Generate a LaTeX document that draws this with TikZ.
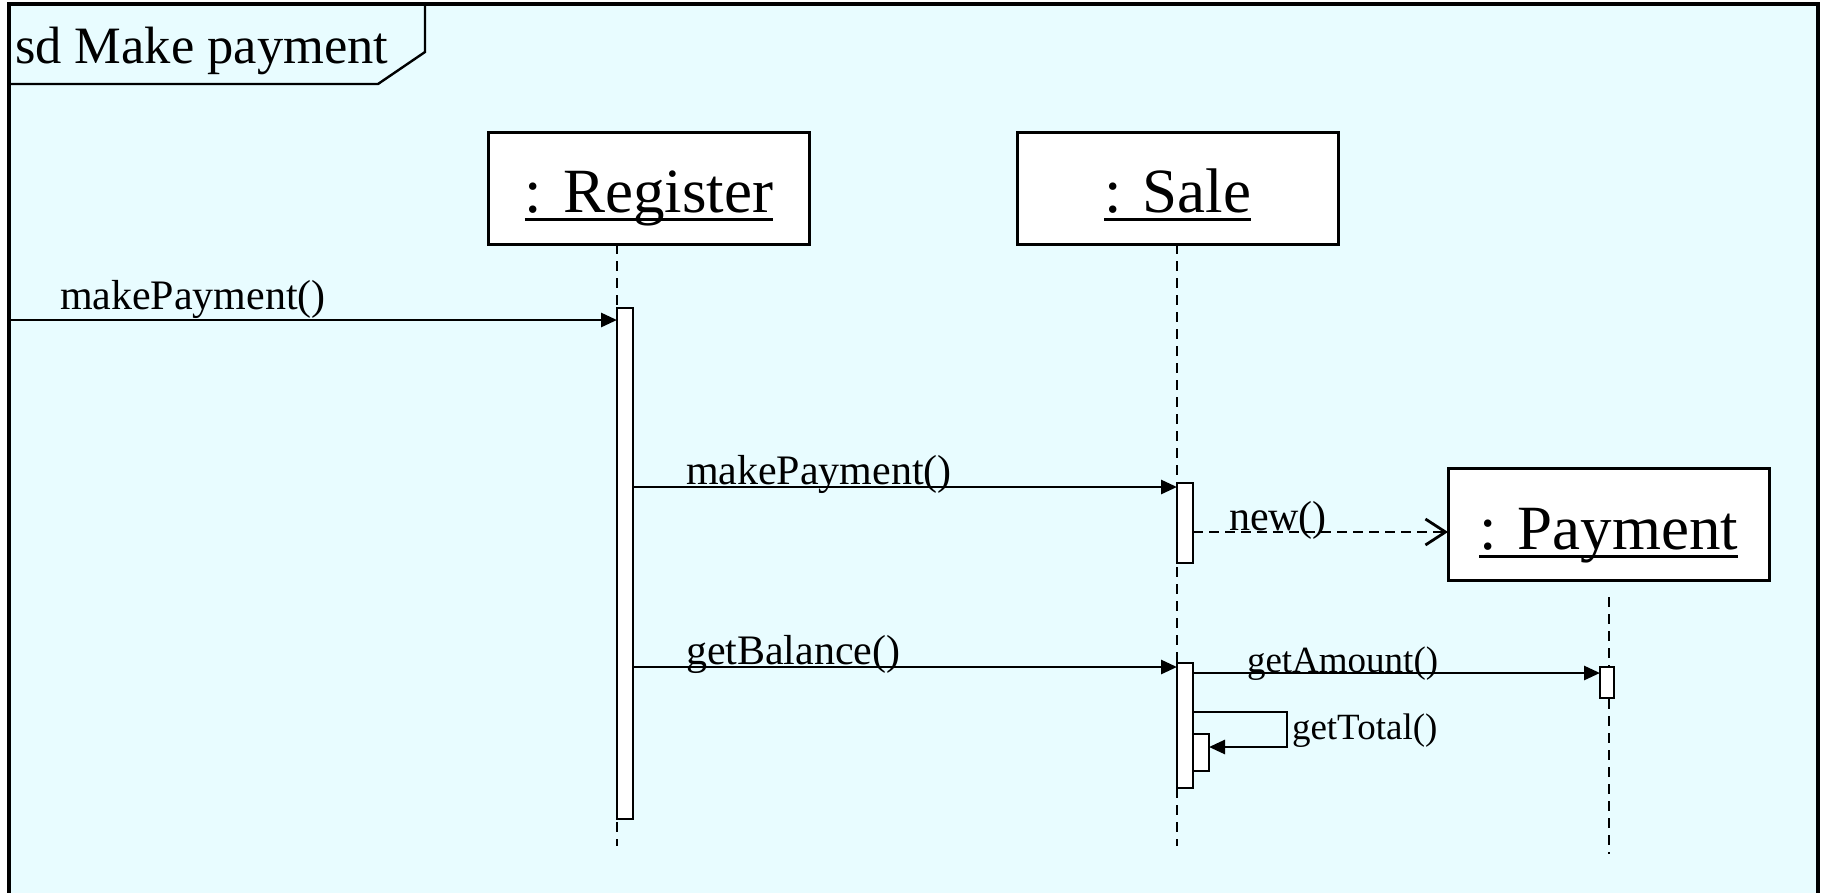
\documentclass[tikz,border=0pt]{standalone}
\usepackage{fontspec}
\setmainfont{Liberation Serif}
\usetikzlibrary{arrows.meta,calc}
\definecolor{framebg}{RGB}{232,252,255}

\tikzset{
  objbox/.style={draw, fill=white, line width=3pt, minimum width=321pt,
    minimum height=112pt, inner sep=0pt, outer sep=0pt},
  objtext/.style={inner sep=0pt, outer sep=0pt, anchor=base,
    font=\fontsize{63}{70}\selectfont},
  objline/.style={line width=3pt},
  act/.style={draw, fill=white, line width=2.8pt, minimum width=16pt,
    inner sep=0pt, outer sep=0pt, anchor=north west},
  life/.style={line width=2.6pt, dash pattern=on 10pt off 7pt},
  msg/.style={line width=2.8pt, -{Triangle[length=16pt,width=14pt]}},
  create/.style={line width=2.8pt, dash pattern=on 10pt off 6pt,
    -{Straight Barb[length=20pt,width=26pt]}},
  lbl/.style={inner sep=0pt, outer sep=0pt, anchor=base west,
    font=\fontsize{42}{48}\selectfont},
  slbl/.style={inner sep=0pt, outer sep=0pt, anchor=base west,
    font=\fontsize{37}{42}\selectfont},
}

\begin{document}
\begin{tikzpicture}[x=1pt, y=-1pt]
  \useasboundingbox (0,0) rectangle (1822,892);
  \clip (0,0) rectangle (1822,892);

  % interaction frame and its name tab
  \draw[fill=framebg, line width=3.2pt] (9,4) rectangle (1818,910);
  \draw[line width=2.4pt] (9,84) -- (378,84) -- (425,52) -- (425,4);
  \node[inner sep=0pt, anchor=base west, font=\fontsize{52.5}{60}\selectfont]
    (sdname) at (15,63) {sd Make payment};

  % participant heads
  \node[objbox] (reg)  at (649,188) {};
  \node[objbox] (sale) at (1177.5,188) {};
  \node[objbox] (pay)  at (1608.5,524) {};
  \node[objtext] (regT)  at ($(reg.north)+(0,80)$)  {: Register};
  \node[objtext] (saleT) at ($(sale.north)+(0,80)$) {: Sale};
  \node[objtext] (payT)  at ($(pay.north)+(0,81)$)  {: Payment};
  \foreach \t in {regT,saleT,payT}
    \draw[objline] ($(\t.base west)+(0,7.5)$) -- ($(\t.base east)+(0,7.5)$);

  % lifelines
  \coordinate (regEnd)  at (617,846);
  \coordinate (saleEnd) at (1177,846);
  \coordinate (payEnd)  at (1609,854);
  \draw[life] (regEnd |- reg.south) -- (regEnd);
  \draw[life] (saleEnd |- sale.south) -- (saleEnd);
  \draw[life, dash phase=10pt] ($(payEnd |- pay.south)+(0,10)$) -- (payEnd);

  % activation bars
  \node[act, minimum height=511pt] (regAct)   at (617,308)  {};
  \node[act, minimum height=80pt]  (saleAct1) at (1177,483) {};
  \node[act, minimum height=125pt] (saleAct2) at (1177,663) {};
  \node[act, minimum width=14pt, minimum height=31pt] (payAct) at (1600,667) {};
  \node[act, minimum width=16pt, minimum height=37pt] (nestAct) at (1193,734) {};

  % message levels
  \coordinate (entry) at (9,320);
  \coordinate (y2) at (0,487);
  \coordinate (y3) at (0,532);
  \coordinate (y4) at (0,667);
  \coordinate (y5) at (0,673);
  \coordinate (y6) at (0,712);
  \coordinate (y7) at (0,747);
  \coordinate (loopR) at (1287,712);

  % messages
  \draw[msg] (entry) -- (regAct.west |- entry);
  \draw[msg] (regAct.east |- y2) -- (saleAct1.west |- y2);
  \draw[create] (saleAct1.east |- y3) -- (pay.west |- y3);
  \draw[msg] (regAct.east |- y4) -- (saleAct2.west |- y4);
  \draw[msg] (saleAct2.east |- y5) -- (payAct.west |- y5);
  \draw[msg] (saleAct2.east |- y6) -- (loopR) -- (loopR |- y7) -- (nestAct.east |- y7);

  % message labels
  \node[lbl]  (l1) at (60,309)   {makePayment()};
  \node[lbl]  (l2) at (686,484)  {makePayment()};
  \node[lbl]  (l3) at (1229,530) {new()};
  \node[lbl]  (l4) at (686,664)  {getBalance()};
  \node[slbl] (l5) at (1247,672) {getAmount()};
  \node[slbl] (l6) at (1292,739) {getTotal()};
\end{tikzpicture}
\end{document}
